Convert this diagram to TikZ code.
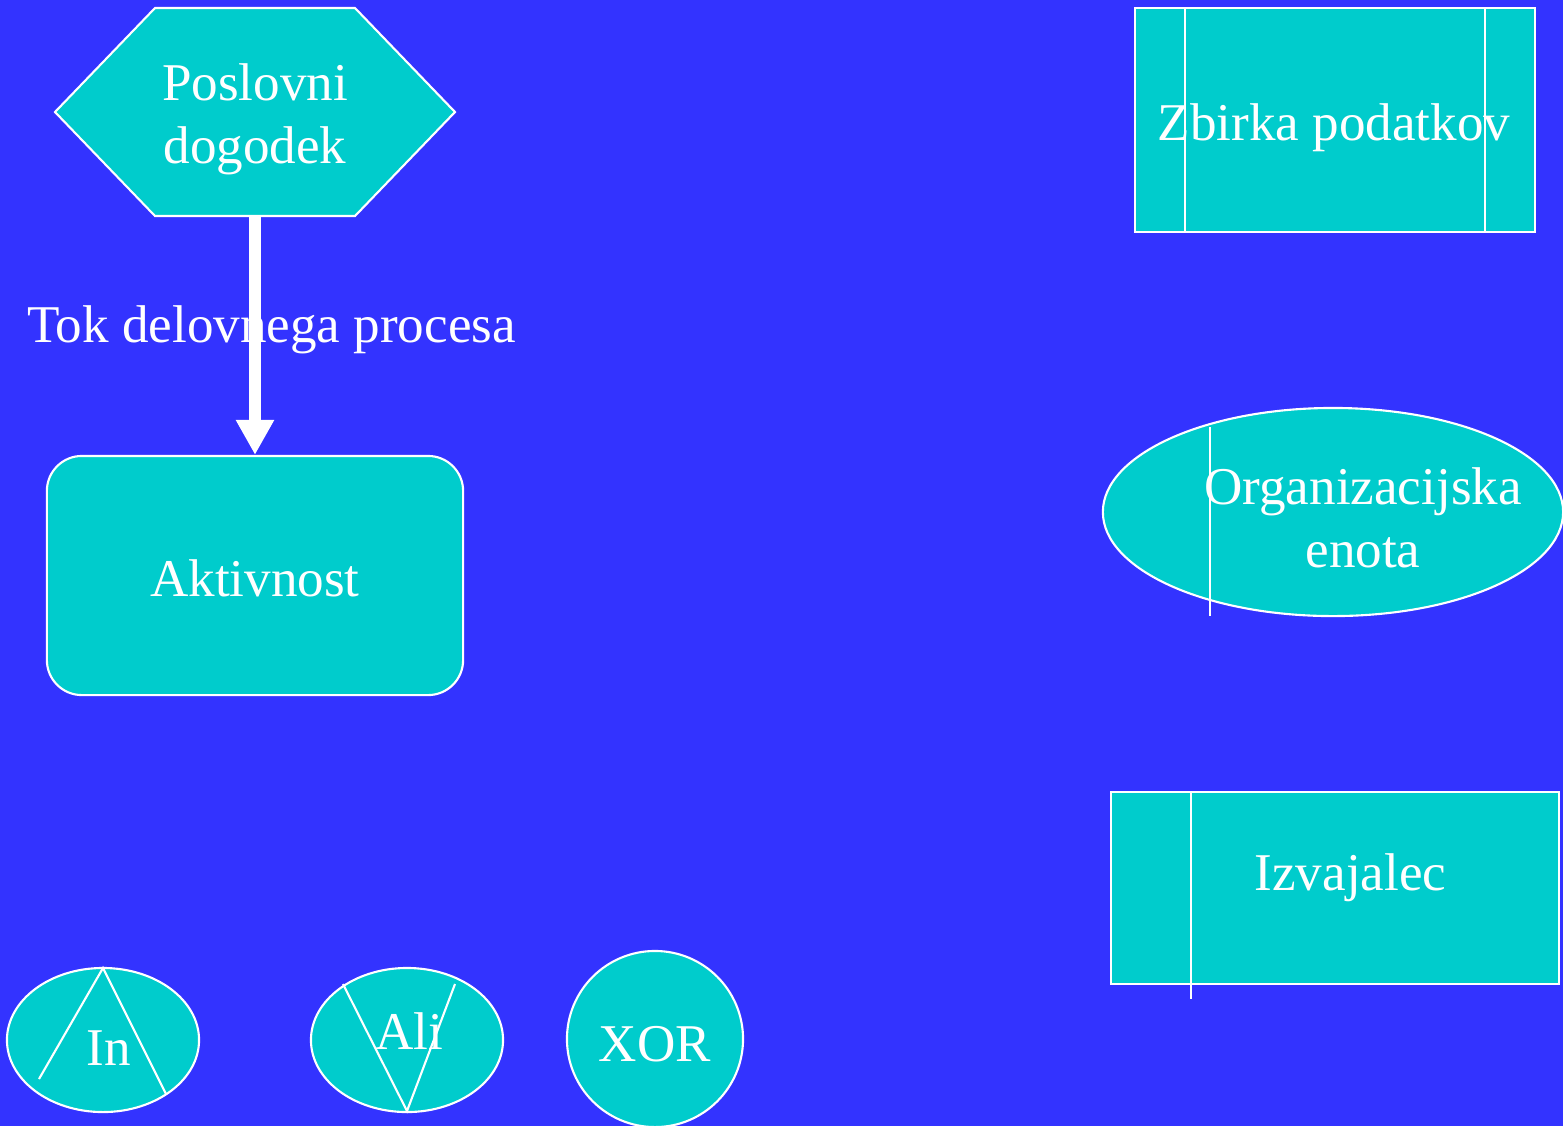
\documentclass[tikz,border=0pt]{standalone}
\usepackage{fontspec}
\setmainfont{Liberation Serif}
\usetikzlibrary{shapes.geometric,arrows.meta}
\definecolor{bgblue}{HTML}{3333FF}
\definecolor{symfill}{HTML}{00CCCC}
\begin{document}
\begin{tikzpicture}[x=0.01cm,y=-0.01cm,
  every node/.style={font=\fontsize{15.1pt}{18pt}\selectfont, text=white},
  sym/.style={draw=white, fill=symfill, line width=0.6pt, inner sep=0pt},
  rule/.style={draw=white, line width=0.6pt},
  lbl/.style={align=center, inner sep=0pt},
  flow/.style={draw=white, line width=3.4pt, -{Triangle[length=3.5mm,width=3.6mm]}}
]
\fill[bgblue] (0,0) rectangle (1563,1126);
\useasboundingbox (0,0) rectangle (1563,1126);

% business event (hexagon)
\draw[sym] (55,112) -- (155,8) -- (355,8) -- (455,112) -- (355,216) -- (155,216) -- cycle;
\node[lbl, minimum height=1.94cm] (ev) at (255,119) {Poslovni\\dogodek};

% activity
\node[sym, rounded corners=0.35cm, minimum width=4.16cm, minimum height=2.39cm] (act) at (255,575.5) {};
\node[lbl] (acttxt) at (255,578) {Aktivnost};

% process flow
\draw[flow] (ev.south) -- (act.north);
\node[lbl] (flowtxt) at (271.5,330) {Tok delovnega procesa};

% data store
\node[sym, minimum width=4cm, minimum height=2.24cm] (db) at (1335,120) {};
\node[lbl] (dbtxt) at (1334,128) {Zbirka podatkov};
\draw[rule] (1185,8) -- (1185,232);
\draw[rule] (1485,8) -- (1485,232);

% organisational unit
\node[sym, ellipse, minimum width=4.6cm, minimum height=2.08cm] (org) at (1333,512) {};
\node[lbl] (orgtxt) at (1363,518) {Organizacijska\\enota};
\draw[rule] (1210,427) -- (1210,616);

% performer
\node[sym, minimum width=4.48cm, minimum height=1.92cm] (perf) at (1335,888) {};
\node[lbl] (perftxt) at (1350.5,878) {Izvajalec};
\draw[rule] (1191,792) -- (1191,999);

% AND connector
\node[sym, ellipse, minimum width=1.92cm, minimum height=1.44cm] (andc) at (103,1040) {};
\draw[rule] (39,1079) -- (103,968) -- (166,1094);
\node[lbl] (andtxt) at (109,1048) {In};

% OR connector
\node[sym, ellipse, minimum width=1.92cm, minimum height=1.44cm] (orc) at (407,1040) {};
\draw[rule] (343,984) -- (407,1111) -- (455,984);
\node[lbl] (ortxt) at (409,1031) {Ali};

% XOR connector
\node[sym, circle, minimum size=1.76cm] (xorc) at (655,1039) {};
\node[lbl] (xortxt) at (655,1044) {XOR};
\end{tikzpicture}
\end{document}
